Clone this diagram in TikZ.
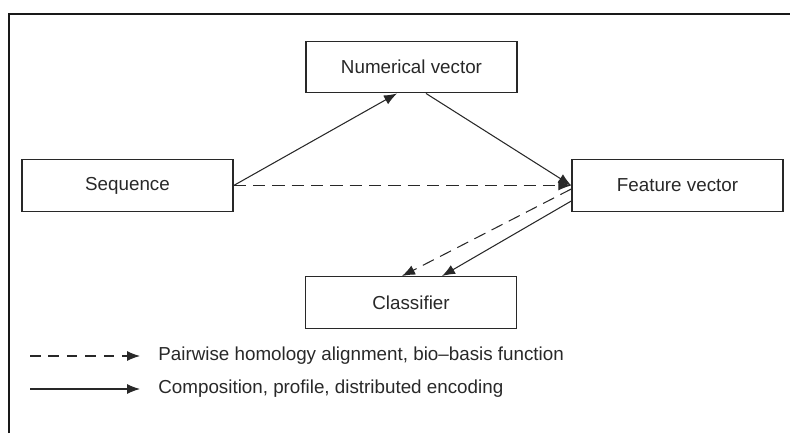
\documentclass[tikz,border=0pt]{standalone}
\usepackage{fontspec}
\setmainfont{Liberation Sans}
\usepackage{tikz}
\usetikzlibrary{arrows.meta,positioning}
\definecolor{inkgray}{RGB}{40,40,40}

\begin{document}
\begin{tikzpicture}[
    font=\fontsize{10.7}{12.8}\selectfont,
    box/.style={rectangle, draw=inkgray, line width=0.8pt, text=inkgray, minimum width=4.22cm, minimum height=1.03cm, align=center},
    arrow/.style={-{Latex[length=2.6mm,width=2mm]}, line width=0.6pt, draw=inkgray},
    dasharrow/.style={arrow, dash pattern=on 7pt off 4pt},
    legtext/.style={anchor=west, inner xsep=0.36cm, text=inkgray}
]
    \useasboundingbox (0,0) rectangle (15.8,8.66);
    % Frame
    \draw[line width=1.7pt, draw=black!90] (0.18,0) -- (0.18,8.38) -- (15.8,8.38);

    % Nodes
    \node[box] (numvec) at (8.23,7.32) {Numerical vector};
    \node[box] (seq) at (2.55,4.95) {Sequence};
    \node[box] (featvec) at (13.55,4.95) {Feature vector};
    \node[box] (clf) at (8.22,2.61) {Classifier};

    % Arrows
    \draw[arrow] (seq.east) -- ([xshift=-0.29cm]numvec.south);
    \draw[arrow] ([xshift=0.29cm]numvec.south) -- (featvec.west);
    \draw[dasharrow] (seq.east) -- (featvec.west);
    \draw[dasharrow] ([yshift=-0.07cm]featvec.west) -- ([xshift=-0.18cm]clf.north);
    \draw[arrow] ([yshift=-0.31cm]featvec.west) -- ([xshift=0.62cm]clf.north);

    % Legend
    \coordinate (dashkey) at (0.6,1.54);
    \coordinate (solidkey) at (0.6,0.88);
    \node[legtext] (dashlabel) at (2.8,1.54) {Pairwise homology alignment, bio--basis function};
    \node[legtext] (solidlabel) at (2.8,0.88) {Composition, profile, distributed encoding};
    \draw[arrow, dash pattern=on 6pt off 4.5pt] (dashkey) -- (dashlabel);
    \draw[arrow] (solidkey) -- (solidlabel);
\end{tikzpicture}
\end{document}
